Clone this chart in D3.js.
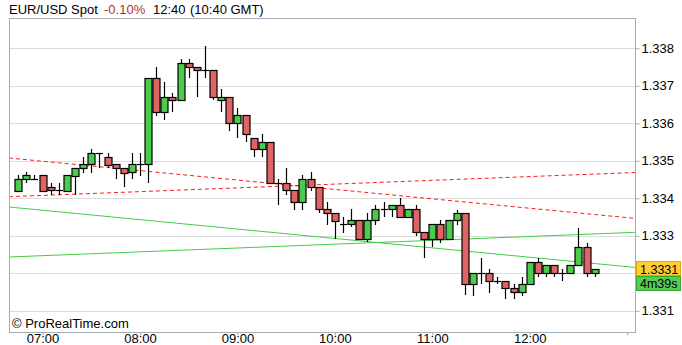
<!DOCTYPE html>
<html><head><meta charset="utf-8">
<script src="https://cdn.jsdelivr.net/npm/d3@7"></script>
<style>
html,body{margin:0;padding:0;background:#fff;}
svg{display:block;font-family:"Liberation Sans",Arial,sans-serif;}
</style></head>
<body>
<svg id="c" width="682" height="345"></svg>
<script>
// ---- data ----
const times = ["06:45","06:50","06:55","07:00","07:05","07:10","07:15","07:20","07:25","07:30","07:35","07:40",
"07:45","07:50","07:55","08:00","08:05","08:10","08:15","08:20","08:25","08:30","08:35","08:40",
"08:45","08:50","08:55","09:00","09:05","09:10","09:15","09:20","09:25","09:30","09:35","09:40",
"09:45","09:50","09:55","10:00","10:05","10:10","10:15","10:20","10:25","10:30","10:35","10:40",
"10:45","10:50","10:55","11:00","11:05","11:10","11:15","11:20","11:25","11:30","11:35","11:40",
"11:45","11:50","11:55","12:00","12:05","12:10","12:15","12:20","12:25","12:30","12:35","12:40"];
const opens = [1.33420,1.33451,1.33451,1.33462,1.33429,1.33422,1.33420,1.33460,1.33480,1.33491,1.33520,1.33509,
1.33491,1.33480,1.33469,1.33491,1.33491,1.33720,1.33629,1.33669,1.33661,1.33760,1.33749,1.33742,
1.33741,1.33661,1.33669,1.33600,1.33621,1.33560,1.33531,1.33549,1.33440,1.33440,1.33422,1.33389,
1.33451,1.33429,1.33371,1.33360,1.33331,1.33331,1.33342,1.33291,1.33342,1.33371,1.33371,1.33382,
1.33349,1.33371,1.33309,1.33291,1.33331,1.33291,1.33342,1.33360,1.33171,1.33200,1.33200,1.33180,
1.33180,1.33160,1.33149,1.33171,1.33229,1.33200,1.33221,1.33200,1.33200,1.33221,1.33269,1.33200];
const highs = [1.33462,1.33471,1.33462,1.33462,1.33440,1.33440,1.33462,1.33480,1.33509,1.33531,1.33520,1.33520,
1.33491,1.33480,1.33520,1.33520,1.33720,1.33749,1.33709,1.33680,1.33771,1.33771,1.33749,1.33805,
1.33741,1.33691,1.33669,1.33640,1.33621,1.33560,1.33571,1.33549,1.33451,1.33480,1.33422,1.33462,
1.33469,1.33429,1.33391,1.33360,1.33351,1.33371,1.33342,1.33362,1.33382,1.33389,1.33382,1.33400,
1.33371,1.33382,1.33309,1.33331,1.33342,1.33342,1.33369,1.33360,1.33200,1.33240,1.33211,1.33191,
1.33180,1.33171,1.33191,1.33229,1.33240,1.33221,1.33221,1.33211,1.33221,1.33320,1.33280,1.33211];
const lows = [1.33420,1.33440,1.33451,1.33420,1.33409,1.33409,1.33420,1.33409,1.33468,1.33468,1.33480,1.33480,
1.33451,1.33429,1.33451,1.33460,1.33440,1.33620,1.33610,1.33629,1.33661,1.33720,1.33669,1.33720,
1.33661,1.33629,1.33580,1.33560,1.33551,1.33509,1.33509,1.33440,1.33382,1.33409,1.33369,1.33369,
1.33420,1.33360,1.33329,1.33291,1.33308,1.33324,1.33291,1.33284,1.33329,1.33349,1.33349,1.33349,
1.33349,1.33300,1.33240,1.33271,1.33280,1.33291,1.33329,1.33142,1.33139,1.33171,1.33148,1.33171,
1.33131,1.33131,1.33140,1.33171,1.33189,1.33189,1.33189,1.33179,1.33200,1.33221,1.33189,1.33189];
const closes = [1.33451,1.33462,1.33451,1.33420,1.33422,1.33422,1.33462,1.33480,1.33491,1.33520,1.33520,1.33489,
1.33480,1.33468,1.33491,1.33491,1.33720,1.33629,1.33669,1.33661,1.33760,1.33749,1.33741,1.33742,
1.33669,1.33669,1.33600,1.33621,1.33571,1.33531,1.33549,1.33440,1.33440,1.33422,1.33389,1.33451,
1.33429,1.33371,1.33360,1.33340,1.33331,1.33342,1.33291,1.33342,1.33371,1.33371,1.33382,1.33349,
1.33371,1.33309,1.33291,1.33331,1.33291,1.33342,1.33360,1.33171,1.33200,1.33200,1.33180,1.33180,
1.33160,1.33149,1.33171,1.33229,1.33200,1.33221,1.33200,1.33200,1.33221,1.33269,1.33200,1.33211];

const gridTicks = [1.331,1.332,1.333,1.334,1.335,1.336,1.337,1.338];
const priceLabels = [1.331,1.333,1.334,1.335,1.336,1.337,1.338]; // 1.332 sits under the price boxes
const hourTicks = ["07:00","08:00","09:00","10:00","11:00","12:00","13:00"];
const hourLabels = ["07:00","08:00","09:00","10:00","11:00","12:00"];
// trend lines: price at left edge, price at right edge of the plot
const redDescending = [1.335075, 1.333464];
const redAscending  = [1.334043, 1.334688];
const greenDescending = [1.333768, 1.332157];
const greenAscending  = [1.332435, 1.333093];
const lastPriceLabel = "1.3331";
const timerLabel = "4m39s";

// ---- layout ----
const L = 9, R = 635, T = 18, B = 332;
const day = "2013-01-01T";
const pt = s => new Date(day + (s.length === 5 ? s + ":00" : s));
const x = d3.scaleTime().domain([pt("06:39:20"), pt("13:04:48")]).range([L, R]);
const y = d3.scaleLinear().domain([1.330435, 1.338808]).range([B, T]);

const svg = d3.select("#c");
const GREEN = "#4ccc4c", RED = "#e06464";
const FONT = "Liberation Sans, Arial, sans-serif";

// grid
svg.append("g").selectAll("line").data(gridTicks).join("line")
  .attr("x1", L).attr("x2", R)
  .attr("y1", d => Math.round(y(d)) + 0.5).attr("y2", d => Math.round(y(d)) + 0.5)
  .attr("stroke", "#dcdcdc").attr("stroke-width", 1);

// trend lines
const trend = (vals, color, dash) => svg.append("line")
  .attr("x1", x.range()[0]).attr("x2", x.range()[1])
  .attr("y1", y(vals[0])).attr("y2", y(vals[1]))
  .attr("stroke", color).attr("stroke-width", 1)
  .attr("stroke-dasharray", dash);
trend(redDescending, "#ff1a1a", "4,3");
trend(redAscending, "#ff1a1a", "4,3");
trend(greenDescending, "#44cc44", null);
trend(greenAscending, "#44cc44", null);

// candles
const candles = times.map((t, i) => ({t: pt(t), o: opens[i], h: highs[i], l: lows[i], c: closes[i]}));
const cg = svg.append("g");
const cx = d => Math.round(x(d.t)) + 0.5;
cg.selectAll("line.w").data(candles).join("line").attr("class", "w")
  .attr("x1", cx).attr("x2", cx)
  .attr("y1", d => Math.round(y(d.h))).attr("y2", d => Math.round(y(d.l)))
  .attr("stroke", "#000").attr("stroke-width", 1.2);
cg.selectAll("rect").data(candles.filter(d => d.o !== d.c)).join("rect")
  .attr("x", d => cx(d) - 3.5).attr("width", 7)
  .attr("y", d => Math.round(y(Math.max(d.o, d.c))) + 0.5)
  .attr("height", d => Math.max(1, Math.round(y(Math.min(d.o, d.c))) - Math.round(y(Math.max(d.o, d.c)))))
  .attr("fill", d => d.c > d.o ? GREEN : RED)
  .attr("stroke", "#000").attr("stroke-width", 1.2);
cg.selectAll("line.dj").data(candles.filter(d => d.o === d.c)).join("line").attr("class", "dj")
  .attr("x1", d => cx(d) - 3.5).attr("x2", d => cx(d) + 3.5)
  .attr("y1", d => Math.round(y(d.c)) + 0.5).attr("y2", d => Math.round(y(d.c)) + 0.5)
  .attr("stroke", "#000").attr("stroke-width", 1.2);

// frame
svg.append("rect").attr("x", L + 0.5).attr("y", T + 0.5).attr("width", R - L).attr("height", B - T)
  .attr("fill", "none").attr("stroke", "#a3adb5").attr("stroke-width", 1);

// right axis
const ya = svg.append("g").attr("transform", `translate(${R + 0.5},0)`)
  .call(d3.axisRight(y).tickValues(gridTicks).tickSize(4).tickPadding(2)
    .tickFormat(d => priceLabels.includes(d) ? d3.format(".3f")(d) : ""));
ya.select(".domain").remove();
ya.selectAll("line").attr("stroke", "#a3adb5");
ya.selectAll("text").attr("font-size", 13).attr("fill", "#000").attr("font-family", FONT);

// bottom axis
const xa = svg.append("g").attr("transform", `translate(0,${B + 0.5})`)
  .call(d3.axisBottom(x).tickValues(hourTicks.map(pt)).tickSize(3).tickPadding(0)
    .tickFormat(d => { const s = d3.timeFormat("%H:%M")(d); return hourLabels.includes(s) ? s : ""; }));
xa.select(".domain").remove();
xa.selectAll("line").attr("stroke", "#a3adb5");
xa.selectAll("text").attr("font-size", 13).attr("fill", "#000")
  .attr("y", 10).attr("dy", 0).attr("font-family", FONT);

// header
const hdr = svg.append("text").attr("x", 9).attr("y", 14).attr("font-size", 13).attr("fill", "#000");
hdr.append("tspan").text("EUR/USD Spot");
hdr.append("tspan").attr("x", 104).attr("fill", "#b03030").text("-0.10%");
hdr.append("tspan").attr("x", 153).text("12:40");
hdr.append("tspan").attr("x", 190).text("(10:40 GMT)");

// copyright
svg.append("text").attr("x", 12).attr("y", 328).attr("font-size", 13).attr("fill", "#000").text("© ProRealTime.com");

// last price and timer boxes
const lastY = Math.round(y(closes[closes.length - 1]));
const bx = R + 1, bw = 681 - bx;
svg.append("rect").attr("x", bx + 0.5).attr("y", lastY - 7.5).attr("width", bw - 1).attr("height", 14)
  .attr("fill", "#ffcc33").attr("stroke", "#e8a400");
svg.append("text").attr("x", bx + 4).attr("y", lastY + 4.5).attr("font-size", 12.5).text(lastPriceLabel);
svg.append("rect").attr("x", bx + 0.5).attr("y", lastY + 7.5).attr("width", bw - 1).attr("height", 14)
  .attr("fill", "#55cc55").attr("stroke", "#33aa33");
svg.append("text").attr("x", bx + 4).attr("y", lastY + 19).attr("font-size", 12.5).text(timerLabel);
</script>
</body></html>
